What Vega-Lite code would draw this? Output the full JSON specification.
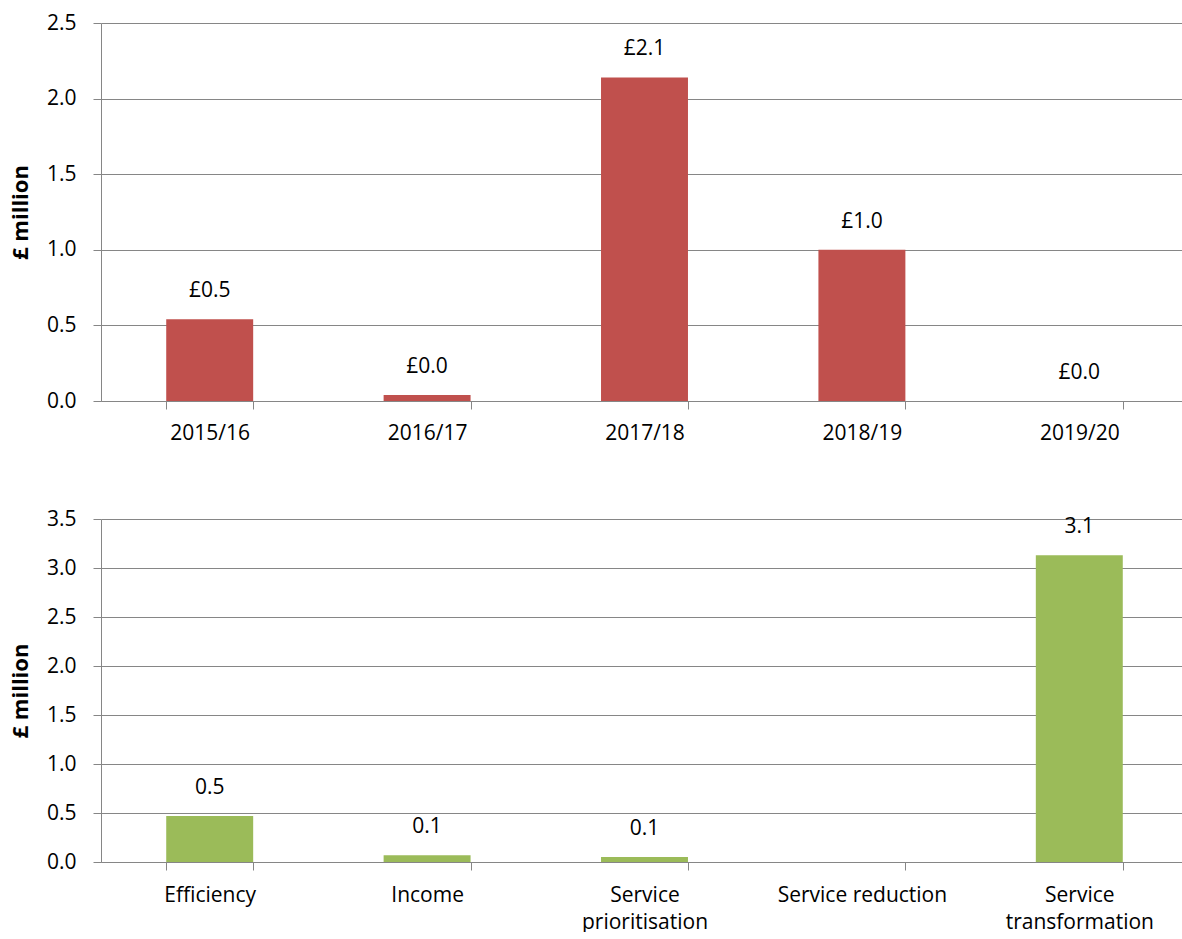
{
  "$schema": "https://vega.github.io/schema/vega-lite/v6.json",
  "padding": {"left": 9, "top": 12, "right": 0, "bottom": 0},
  "spacing": 65,
  "config": {
    "font": "Open Sans",
    "view": {"stroke": null},
    "axis": {
      "labelFont": "Open Sans",
      "labelFontSize": 21,
      "labelColor": "#000000",
      "domainColor": "#868686",
      "tickColor": "#868686",
      "gridColor": "#868686",
      "tickSize": 8,
      "titleFont": "Open Sans",
      "titleColor": "#000000"
    }
  },
  "vconcat": [
    {
      "width": 1087,
      "height": 378,
      "data": {"values": [
        {"category": "2015/16", "value": 0.54},
        {"category": "2016/17", "value": 0.04},
        {"category": "2017/18", "value": 2.14},
        {"category": "2018/19", "value": 1.0},
        {"category": "2019/20", "value": 0.0}
      ]},
      "encoding": {
        "x": {
          "field": "category", "type": "nominal", "sort": null,
          "scale": {"paddingInner": 0.6, "paddingOuter": 0.3},
          "axis": {"title": null, "labelAngle": 0, "tickBand": "extent", "labelPadding": 13, "grid": false}
        },
        "y": {
          "field": "value", "type": "quantitative",
          "scale": {"domain": [0, 2.5], "nice": false},
          "axis": {"title": "£ million", "titleFontSize": 22, "titleFontWeight": "bold", "titlePadding": 14, "labelPadding": 17, "values": [0, 0.5, 1, 1.5, 2, 2.5], "format": ".1f", "grid": true}
        }
      },
      "layer": [
        {"mark": {"type": "bar", "color": "#C0504D"}},
        {
          "transform": [{"calculate": "'£' + format(datum.value, '.1f')", "as": "lbl"}],
          "mark": {"type": "text", "dy": -28, "fontSize": 21, "color": "#000000", "baseline": "middle"},
          "encoding": {"text": {"field": "lbl", "type": "nominal"}}
        }
      ]
    },
    {
      "width": 1087,
      "height": 343,
      "data": {"values": [
        {"category": "Efficiency", "value": 0.47},
        {"category": "Income", "value": 0.07},
        {"category": "Service prioritisation", "value": 0.05},
        {"category": "Service reduction", "value": null},
        {"category": "Service transformation", "value": 3.13}
      ]},
      "encoding": {
        "x": {
          "field": "category", "type": "nominal", "sort": null,
          "scale": {"domain": ["Efficiency", "Income", "Service prioritisation", "Service reduction", "Service transformation"], "paddingInner": 0.6, "paddingOuter": 0.3},
          "axis": {"title": null, "labelAngle": 0, "tickBand": "extent", "labelPadding": 14, "grid": false, "labelLineHeight": 27,
                   "labelExpr": "datum.label == 'Service reduction' ? datum.label : split(datum.label, ' ')"}
        },
        "y": {
          "field": "value", "type": "quantitative",
          "scale": {"domain": [0, 3.5], "nice": false},
          "axis": {"title": "£ million", "titleFontSize": 22, "titleFontWeight": "bold", "titlePadding": 14, "labelPadding": 17, "values": [0, 0.5, 1, 1.5, 2, 2.5, 3, 3.5], "format": ".1f", "grid": true}
        }
      },
      "layer": [
        {"mark": {"type": "bar", "color": "#9BBB59"}},
        {
          "transform": [{"filter": "datum.value != null"}, {"calculate": "format(datum.value, '.1f')", "as": "lbl"}],
          "mark": {"type": "text", "dy": -28, "fontSize": 21, "color": "#000000", "baseline": "middle"},
          "encoding": {"text": {"field": "lbl", "type": "nominal"}}
        }
      ]
    }
  ]
}
